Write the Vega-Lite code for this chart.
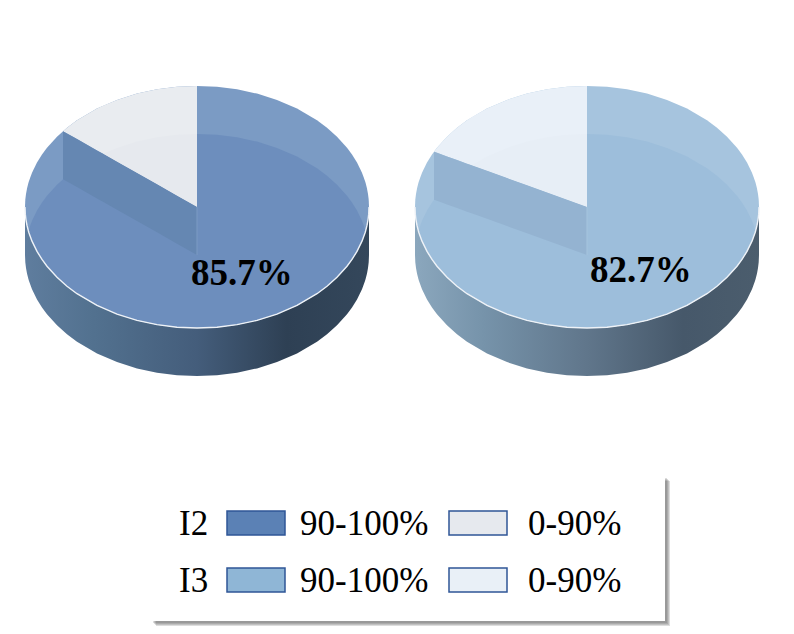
{"$schema":"https://vega.github.io/schema/vega-lite/v6.json","width":794,"height":634,"autosize":{"type":"fit","contains":"padding"},"padding":0,"background":"white","config":{"view":{"stroke":null}},"datasets":{"disc":[
{"pie":"I2","x":25,"top":207,"bottom":207,"floorTop":255,"wallBottom":255},{"pie":"I2","x":25.3,"top":199.85,"bottom":214.15,"floorTop":247.85,"wallBottom":262.15},{"pie":"I2","x":26,"top":193.98,"bottom":220.02,"floorTop":241.98,"wallBottom":268.02},{"pie":"I2","x":27,"top":188.6,"bottom":225.4,"floorTop":236.6,"wallBottom":273.4},{"pie":"I2","x":28.4,"top":183,"bottom":231,"floorTop":231,"wallBottom":279},{"pie":"I2","x":29,"top":181.05,"bottom":232.95,"floorTop":229.05,"wallBottom":280.95},{"pie":"I2","x":32,"top":172.83,"bottom":241.17,"floorTop":220.83,"wallBottom":289.17},{"pie":"I2","x":37,"top":162.6,"bottom":251.4,"floorTop":210.6,"wallBottom":299.4},{"pie":"I2","x":42,"top":154.55,"bottom":259.45,"floorTop":202.55,"wallBottom":307.45},{"pie":"I2","x":47,"top":147.79,"bottom":266.21,"floorTop":195.79,"wallBottom":314.21},{"pie":"I2","x":57,"top":136.71,"bottom":277.29,"floorTop":184.71,"wallBottom":325.29},{"pie":"I2","x":67,"top":127.77,"bottom":286.23,"floorTop":175.77,"wallBottom":334.23},{"pie":"I2","x":77,"top":120.31,"bottom":293.69,"floorTop":168.31,"wallBottom":341.69},{"pie":"I2","x":97,"top":108.55,"bottom":305.45,"floorTop":156.55,"wallBottom":353.45},{"pie":"I2","x":117,"top":99.88,"bottom":314.12,"floorTop":147.88,"wallBottom":362.12},{"pie":"I2","x":137,"top":93.6,"bottom":320.4,"floorTop":141.6,"wallBottom":368.4},{"pie":"I2","x":157,"top":89.32,"bottom":324.68,"floorTop":137.32,"wallBottom":372.68},{"pie":"I2","x":177,"top":86.82,"bottom":327.18,"floorTop":134.82,"wallBottom":375.18},{"pie":"I2","x":197,"top":86,"bottom":328,"floorTop":134,"wallBottom":376},{"pie":"I2","x":217,"top":86.82,"bottom":327.18,"floorTop":134.82,"wallBottom":375.18},{"pie":"I2","x":237,"top":89.32,"bottom":324.68,"floorTop":137.32,"wallBottom":372.68},{"pie":"I2","x":257,"top":93.6,"bottom":320.4,"floorTop":141.6,"wallBottom":368.4},{"pie":"I2","x":277,"top":99.88,"bottom":314.12,"floorTop":147.88,"wallBottom":362.12},{"pie":"I2","x":297,"top":108.55,"bottom":305.45,"floorTop":156.55,"wallBottom":353.45},{"pie":"I2","x":317,"top":120.31,"bottom":293.69,"floorTop":168.31,"wallBottom":341.69},{"pie":"I2","x":327,"top":127.77,"bottom":286.23,"floorTop":175.77,"wallBottom":334.23},{"pie":"I2","x":337,"top":136.71,"bottom":277.29,"floorTop":184.71,"wallBottom":325.29},{"pie":"I2","x":347,"top":147.79,"bottom":266.21,"floorTop":195.79,"wallBottom":314.21},{"pie":"I2","x":352,"top":154.55,"bottom":259.45,"floorTop":202.55,"wallBottom":307.45},{"pie":"I2","x":357,"top":162.6,"bottom":251.4,"floorTop":210.6,"wallBottom":299.4},{"pie":"I2","x":362,"top":172.83,"bottom":241.17,"floorTop":220.83,"wallBottom":289.17},{"pie":"I2","x":365,"top":181.05,"bottom":232.95,"floorTop":229.05,"wallBottom":280.95},{"pie":"I2","x":365.6,"top":183,"bottom":231,"floorTop":231,"wallBottom":279},{"pie":"I2","x":367,"top":188.6,"bottom":225.4,"floorTop":236.6,"wallBottom":273.4},{"pie":"I2","x":368,"top":193.98,"bottom":220.02,"floorTop":241.98,"wallBottom":268.02},{"pie":"I2","x":368.7,"top":199.85,"bottom":214.15,"floorTop":247.85,"wallBottom":262.15},{"pie":"I2","x":369,"top":207,"bottom":207,"floorTop":255,"wallBottom":255},
{"pie":"I3","x":415,"top":207,"bottom":207,"floorTop":255,"wallBottom":255},{"pie":"I3","x":415.3,"top":199.85,"bottom":214.15,"floorTop":247.85,"wallBottom":262.15},{"pie":"I3","x":416,"top":193.98,"bottom":220.02,"floorTop":241.98,"wallBottom":268.02},{"pie":"I3","x":417,"top":188.6,"bottom":225.4,"floorTop":236.6,"wallBottom":273.4},{"pie":"I3","x":418.4,"top":183,"bottom":231,"floorTop":231,"wallBottom":279},{"pie":"I3","x":419,"top":181.05,"bottom":232.95,"floorTop":229.05,"wallBottom":280.95},{"pie":"I3","x":422,"top":172.83,"bottom":241.17,"floorTop":220.83,"wallBottom":289.17},{"pie":"I3","x":427,"top":162.6,"bottom":251.4,"floorTop":210.6,"wallBottom":299.4},{"pie":"I3","x":432,"top":154.55,"bottom":259.45,"floorTop":202.55,"wallBottom":307.45},{"pie":"I3","x":437,"top":147.79,"bottom":266.21,"floorTop":195.79,"wallBottom":314.21},{"pie":"I3","x":447,"top":136.71,"bottom":277.29,"floorTop":184.71,"wallBottom":325.29},{"pie":"I3","x":457,"top":127.77,"bottom":286.23,"floorTop":175.77,"wallBottom":334.23},{"pie":"I3","x":467,"top":120.31,"bottom":293.69,"floorTop":168.31,"wallBottom":341.69},{"pie":"I3","x":487,"top":108.55,"bottom":305.45,"floorTop":156.55,"wallBottom":353.45},{"pie":"I3","x":507,"top":99.88,"bottom":314.12,"floorTop":147.88,"wallBottom":362.12},{"pie":"I3","x":527,"top":93.6,"bottom":320.4,"floorTop":141.6,"wallBottom":368.4},{"pie":"I3","x":547,"top":89.32,"bottom":324.68,"floorTop":137.32,"wallBottom":372.68},{"pie":"I3","x":567,"top":86.82,"bottom":327.18,"floorTop":134.82,"wallBottom":375.18},{"pie":"I3","x":587,"top":86,"bottom":328,"floorTop":134,"wallBottom":376},{"pie":"I3","x":607,"top":86.82,"bottom":327.18,"floorTop":134.82,"wallBottom":375.18},{"pie":"I3","x":627,"top":89.32,"bottom":324.68,"floorTop":137.32,"wallBottom":372.68},{"pie":"I3","x":647,"top":93.6,"bottom":320.4,"floorTop":141.6,"wallBottom":368.4},{"pie":"I3","x":667,"top":99.88,"bottom":314.12,"floorTop":147.88,"wallBottom":362.12},{"pie":"I3","x":687,"top":108.55,"bottom":305.45,"floorTop":156.55,"wallBottom":353.45},{"pie":"I3","x":707,"top":120.31,"bottom":293.69,"floorTop":168.31,"wallBottom":341.69},{"pie":"I3","x":717,"top":127.77,"bottom":286.23,"floorTop":175.77,"wallBottom":334.23},{"pie":"I3","x":727,"top":136.71,"bottom":277.29,"floorTop":184.71,"wallBottom":325.29},{"pie":"I3","x":737,"top":147.79,"bottom":266.21,"floorTop":195.79,"wallBottom":314.21},{"pie":"I3","x":742,"top":154.55,"bottom":259.45,"floorTop":202.55,"wallBottom":307.45},{"pie":"I3","x":747,"top":162.6,"bottom":251.4,"floorTop":210.6,"wallBottom":299.4},{"pie":"I3","x":752,"top":172.83,"bottom":241.17,"floorTop":220.83,"wallBottom":289.17},{"pie":"I3","x":755,"top":181.05,"bottom":232.95,"floorTop":229.05,"wallBottom":280.95},{"pie":"I3","x":755.6,"top":183,"bottom":231,"floorTop":231,"wallBottom":279},{"pie":"I3","x":757,"top":188.6,"bottom":225.4,"floorTop":236.6,"wallBottom":273.4},{"pie":"I3","x":758,"top":193.98,"bottom":220.02,"floorTop":241.98,"wallBottom":268.02},{"pie":"I3","x":758.7,"top":199.85,"bottom":214.15,"floorTop":247.85,"wallBottom":262.15},{"pie":"I3","x":759,"top":207,"bottom":207,"floorTop":255,"wallBottom":255}
],"cut":[
{"pie":"I2","x":63,"rim":131.14,"edge":131.14,"floorTop":179.14,"low":179.14},{"pie":"I2","x":67,"rim":127.77,"edge":133.41,"floorTop":175.77,"low":181.41},{"pie":"I2","x":77,"rim":120.31,"edge":139.07,"floorTop":168.31,"low":187.07},{"pie":"I2","x":97,"rim":108.55,"edge":150.39,"floorTop":156.55,"low":198.39},{"pie":"I2","x":103,"rim":105.67,"edge":153.79,"floorTop":153.79,"low":201.79},{"pie":"I2","x":117,"rim":99.88,"edge":161.71,"floorTop":147.88,"low":209.71},{"pie":"I2","x":137,"rim":93.6,"edge":173.03,"floorTop":141.6,"low":221.03},{"pie":"I2","x":157,"rim":89.32,"edge":184.36,"floorTop":137.32,"low":232.36},{"pie":"I2","x":177,"rim":86.82,"edge":195.68,"floorTop":134.82,"low":243.68},{"pie":"I2","x":197,"rim":86,"edge":207,"floorTop":134,"low":255},
{"pie":"I3","x":434,"rim":151.72,"edge":151.72,"floorTop":199.72,"low":199.72},{"pie":"I3","x":437,"rim":147.79,"edge":152.8,"floorTop":195.79,"low":200.8},{"pie":"I3","x":447,"rim":136.71,"edge":156.42,"floorTop":184.71,"low":204.42},{"pie":"I3","x":457,"rim":127.77,"edge":160.03,"floorTop":175.77,"low":208.03},{"pie":"I3","x":467,"rim":120.31,"edge":163.64,"floorTop":168.31,"low":211.64},{"pie":"I3","x":471.5,"rim":117.34,"edge":165.27,"floorTop":165.27,"low":213.27},{"pie":"I3","x":487,"rim":108.55,"edge":170.87,"floorTop":156.55,"low":218.87},{"pie":"I3","x":507,"rim":99.88,"edge":178.1,"floorTop":147.88,"low":226.1},{"pie":"I3","x":527,"rim":93.6,"edge":185.32,"floorTop":141.6,"low":233.32},{"pie":"I3","x":547,"rim":89.32,"edge":192.55,"floorTop":137.32,"low":240.55},{"pie":"I3","x":567,"rim":86.82,"edge":199.77,"floorTop":134.82,"low":247.77},{"pie":"I3","x":587,"rim":86,"edge":207,"floorTop":134,"low":255}
]},
"data":{"name":"disc"},
"encoding":{"x":{"field":"x","type":"quantitative","scale":{"domain":[0,794],"nice":false,"zero":false},"axis":null}},
"resolve":{"scale":{"color":"independent"}},
"layer":[
{"transform":[{"filter":"datum.pie==='I2'"}],"mark":{"type":"area","line":false,"color":{"gradient":"linear","x1":0,"x2":1,"y1":0,"y2":0,"stops":[{"offset":0,"color":"#5f7d9e"},{"offset":0.2,"color":"#52718f"},{"offset":0.5,"color":"#445d7b"},{"offset":0.76,"color":"#2e4054"},{"offset":1,"color":"#34475b"}]}},"encoding":{"y":{"field":"bottom","type":"quantitative","scale":{"domain":[634,0],"nice":false,"zero":false},"axis":null},"y2":{"field":"wallBottom"}}},
{"transform":[{"filter":"datum.pie==='I3'"}],"mark":{"type":"area","color":{"gradient":"linear","x1":0,"x2":1,"y1":0,"y2":0,"stops":[{"offset":0,"color":"#8ba7bd"},{"offset":0.2,"color":"#7693aa"},{"offset":0.5,"color":"#60768b"},{"offset":0.78,"color":"#46586a"},{"offset":1,"color":"#4b5d6d"}]}},"encoding":{"y":{"field":"bottom","type":"quantitative","axis":null},"y2":{"field":"wallBottom"}}},
{"mark":{"type":"area"},"encoding":{"y":{"field":"top","type":"quantitative","axis":null},"y2":{"field":"bottom"},"color":{"field":"pie","type":"nominal","scale":{"domain":["I2","I3"],"range":["#7b9bc4","#a6c4de"]},"legend":null}}},
{"transform":[{"filter":"datum.floorTop<=datum.bottom"}],"mark":{"type":"area"},"encoding":{"y":{"field":"floorTop","type":"quantitative","axis":null},"y2":{"field":"bottom"},"color":{"field":"pie","type":"nominal","scale":{"domain":["I2","I3"],"range":["#6d8ebd","#9dbedb"]},"legend":null}}},
{"data":{"name":"cut"},"mark":{"type":"area"},"encoding":{"y":{"field":"rim","type":"quantitative","axis":null},"y2":{"field":"edge"},"color":{"field":"pie","type":"nominal","scale":{"domain":["I2","I3"],"range":["#e9ecf0","#e9f0f8"]},"legend":null}}},
{"data":{"name":"cut"},"transform":[{"filter":"datum.floorTop<=datum.edge"}],"mark":{"type":"area"},"encoding":{"y":{"field":"floorTop","type":"quantitative","axis":null},"y2":{"field":"edge"},"color":{"field":"pie","type":"nominal","scale":{"domain":["I2","I3"],"range":["#e6e9ee","#e7eef6"]},"legend":null}}},
{"data":{"name":"cut"},"mark":{"type":"area"},"encoding":{"y":{"field":"edge","type":"quantitative","axis":null},"y2":{"field":"low"},"color":{"field":"pie","type":"nominal","scale":{"domain":["I2","I3"],"range":["#6587b2","#94b3d1"]},"legend":null}}},
{"data":{"name":"cut"},"transform":[{"filter":"datum.x===197||datum.x===587"}],"mark":{"type":"rule","strokeWidth":1},"encoding":{"y":{"field":"edge","type":"quantitative","axis":null},"y2":{"field":"low"},"color":{"field":"pie","type":"nominal","scale":{"domain":["I2","I3"],"range":["#7c9ac4","#a6c4de"]},"legend":null}}},
{"mark":{"type":"line","strokeWidth":1.4,"color":"#eef2f7","interpolate":"linear"},"encoding":{"y":{"field":"bottom","type":"quantitative","axis":null},"detail":{"field":"pie"}}},
{"data":{"values":[{"label":"85.7%","x":191,"y":285},{"label":"82.7%","x":590,"y":282}]},"mark":{"type":"text","font":"Liberation Serif","fontWeight":"bold","fontSize":37,"align":"left","baseline":"alphabetic","color":"#000000"},"encoding":{"y":{"field":"y","type":"quantitative","axis":null},"text":{"field":"label"}}},
{"data":{"values":[{"x":156,"x2":670,"y":481,"y2":626},{"x":155,"x2":669,"y":480,"y2":625},{"x":154,"x2":668,"y":479,"y2":624},{"x":153,"x2":667,"y":478,"y2":623}]},"mark":{"type":"rect","color":"#555555","opacity":0.2},"encoding":{"x2":{"field":"x2"},"y":{"field":"y","type":"quantitative","axis":null},"y2":{"field":"y2"}}},
{"data":{"values":[{"x":152,"x2":665,"y":475,"y2":621}]},"mark":{"type":"rect","color":"#ffffff"},"encoding":{"x2":{"field":"x2"},"y":{"field":"y","type":"quantitative","axis":null},"y2":{"field":"y2"}}},
{"data":{"values":[{"key":"I2 90-100%","x":227,"x2":285,"y":511,"y2":535},{"key":"I2 0-90%","x":449,"x2":507,"y":511,"y2":535},{"key":"I3 90-100%","x":227,"x2":285,"y":568,"y2":592},{"key":"I3 0-90%","x":449,"x2":507,"y":568,"y2":592}]},"mark":{"type":"rect","stroke":"#2f5597","strokeWidth":1.5},"encoding":{"x2":{"field":"x2"},"y":{"field":"y","type":"quantitative","axis":null},"y2":{"field":"y2"},"fill":{"field":"key","type":"nominal","scale":{"domain":["I2 90-100%","I2 0-90%","I3 90-100%","I3 0-90%"],"range":["#5b81b5","#e6e9ee","#8fb6d6","#e9f0f7"]},"legend":null}}},
{"data":{"values":[{"label":"I2","x":179,"y":535},{"label":"90-100%","x":300,"y":535},{"label":"0-90%","x":528,"y":535},{"label":"I3","x":179,"y":592},{"label":"90-100%","x":300,"y":592},{"label":"0-90%","x":528,"y":592}]},"mark":{"type":"text","font":"Liberation Serif","fontSize":35,"align":"left","baseline":"alphabetic","color":"#000000"},"encoding":{"y":{"field":"y","type":"quantitative","axis":null},"text":{"field":"label"}}}
]}
